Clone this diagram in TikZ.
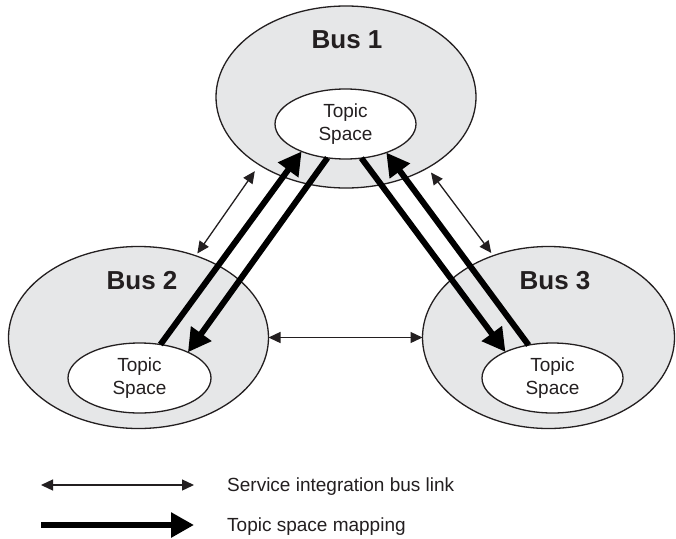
\documentclass[tikz,border=0pt]{standalone}
\usepackage{fontspec}
\setmainfont{Liberation Sans}
\usetikzlibrary{arrows.meta,shapes.geometric}
\definecolor{busgray}{HTML}{E6E7E8}
\definecolor{ink}{HTML}{231F20}
\begin{document}
\begin{tikzpicture}[x=1pt,y=-1pt,
  bus/.style={draw=ink, line width=1.3pt, fill=busgray, ellipse, inner sep=0pt, outer sep=0pt, minimum width=260pt, minimum height=182pt},
  topic/.style={draw=ink, line width=1.3pt, fill=white, ellipse, inner sep=0pt, outer sep=0pt, minimum width=141pt, minimum height=70pt, align=center, font=\fontsize{19}{23}\selectfont, text=ink},
  buslabel/.style={font=\fontsize{26}{30}\selectfont\bfseries, text=ink, inner sep=0pt},
  link/.style={draw=ink, line width=1.3pt, {Triangle[length=12pt,width=11pt]}-{Triangle[length=12pt,width=11pt]}},
  mapping/.style={draw=black, line width=6pt, -{Triangle[length=23pt,width=24pt]}},
  legendtext/.style={anchor=base west, inner sep=0pt, font=\fontsize{19}{23}\selectfont, text=ink}]
\fill[white] (0,0) rectangle (676,538);
\useasboundingbox (0,0) rectangle (676,538);
% buses
\node[bus] (b1) at (346,97) {};
\node[bus] (b2) at (138.5,337.5) {};
\node[bus, minimum width=252pt] (b3) at (548.5,337.5) {};
\node[buslabel] (l1) at (347,40) {Bus 1};
\node[buslabel] (l2) at (142,281) {Bus 2};
\node[buslabel] (l3) at (555,281) {Bus 3};
% topic spaces
\node[topic] (t1) at (345.5,124) {Topic\\Space};
\node[topic, minimum width=143pt] (t2) at (139.5,378) {Topic\\Space};
\node[topic] (t3) at (552.5,378) {Topic\\Space};
% bus links
\draw[link, shorten <=7.8pt, shorten >=2.8pt] (b1.218.8) -- (b2.55.3);
\draw[link, shorten <=5.8pt, shorten >=3.4pt] (b1.319.6) -- (b3.124.9);
\draw[link] (b2.east) -- (b3.west);
% topic space mappings
\draw[mapping] (t2.58) -- (t1.212.3);
\draw[mapping] (t1.242) -- (t2.28.7);
\draw[mapping] (t1.295.3) -- (t3.151.9);
\draw[mapping] (t3.126.1) -- (t1.325.4);
% legend
\coordinate (k1s) at (41,485);
\coordinate (k1e) at (194,485);
\coordinate (k2s) at (41,525);
\coordinate (k2e) at (194,525);
\draw[link] (k1s) -- (k1e);
\draw[mapping] (k2s) -- (k2e);
\node[legendtext] (kt1) at (227,491) {Service integration bus link};
\node[legendtext] (kt2) at (227,531) {Topic space mapping};
\end{tikzpicture}
\end{document}
